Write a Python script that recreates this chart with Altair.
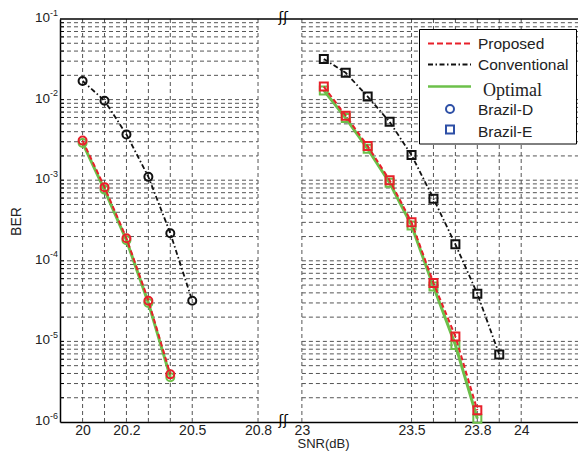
import altair as alt
import pandas as pd

# ---------------- data ----------------
SHIFT = 2.0  # right-hand segment (23..24 dB) is drawn at snr - SHIFT (axis break)

# Brazil-D (left segment, circles)
snr_d_conv = [20.0, 20.1, 20.2, 20.3, 20.4, 20.5]
ber_d_conv = [1.7e-2, 9.7e-3, 3.7e-3, 1.1e-3, 2.2e-4, 3.2e-5]
snr_d = [20.0, 20.1, 20.2, 20.3, 20.4]
ber_d_prop = [3.1e-3, 8.2e-4, 1.9e-4, 3.2e-5, 3.9e-6]
ber_d_opt = [2.9e-3, 7.6e-4, 1.8e-4, 3.0e-5, 3.6e-6]

# Brazil-E (right segment, squares)
snr_e_conv = [23.1, 23.2, 23.3, 23.4, 23.5, 23.6, 23.7, 23.8, 23.9]
ber_e_conv = [3.2e-2, 2.15e-2, 1.09e-2, 5.3e-3, 2.05e-3, 5.9e-4, 1.6e-4, 3.9e-5, 6.9e-6]
snr_e = [23.1, 23.2, 23.3, 23.4, 23.5, 23.6, 23.7, 23.8]
ber_e_prop = [1.45e-2, 6.3e-3, 2.65e-3, 1.0e-3, 3.0e-4, 5.3e-5, 1.15e-5, 1.4e-6]
ber_e_opt = [1.3e-2, 5.9e-3, 2.45e-3, 9.3e-4, 2.75e-4, 4.8e-5, 9.0e-6, 1.1e-6]

x_tick_values = [20, 20.2, 20.5, 20.8, 23, 23.5, 23.8, 24]
x_grid_values = [20, 20.1, 20.2, 20.3, 20.4, 20.5, 20.8, 23, 23.5, 23.6, 23.7, 23.8, 23.9, 24]
y_exponents = [-1, -2, -3, -4, -5, -6]
legend_labels = ["Proposed", "Conventional", "Optimal", "Brazil-D", "Brazil-E"]
x_title = "SNR(dB)"
y_title = "BER"

# ---------------- helpers ----------------
def to_plot(v):
    return v - SHIFT if v > 22 else v

W, H = 518, 403
X_LO = 19.897
X_HI = X_LO + W / 219.3
BREAK_L, BREAK_R = 20.8, 23 - SHIFT
BREAK_MID = 20.915

RED, BLACK, GREEN, BLUE = "#e8202a", "#111111", "#6cc04a", "#2d4fa6"
GRID = "#555555"
TXT = "#222222"
FONT = "Liberation Sans"

xs = alt.Scale(domain=[X_LO, X_HI], nice=False, zero=False)
ys = alt.Scale(type="log", domain=[1e-6, 1e-1], nice=False)

label_expr = ("datum.value > 20.95 ? format(datum.value + %g, '.1~f') : format(datum.value, '.1~f')" % SHIFT)

x_axis = alt.Axis(values=[to_plot(v) for v in x_tick_values], labelExpr=label_expr,
                  grid=False, ticks=False, domain=True, domainColor="black", domainWidth=1.5,
                  labelFont=FONT, labelFontSize=14, labelColor=TXT, labelPadding=1,
                  labelOverlap=False, labelFlush=False,
                  title=x_title, titleFont=FONT, titleFontSize=13, titleFontWeight="normal",
                  titleColor=TXT, titleBaseline="middle", titleX=263, titleY=21)
y_axis = alt.Axis(labels=False, ticks=False, grid=False, domain=True,
                  domainColor="black", domainWidth=1.5, title=None)


def XF(field):
    return alt.X(field, type="quantitative", scale=xs, axis=x_axis)


def XD(val):
    return alt.X(datum=val, type="quantitative", scale=xs, axis=x_axis)


def YF(field):
    return alt.Y(field, type="quantitative", scale=ys, axis=y_axis)


def series_df(pairs):
    rows = []
    for seg, xs_, ys_ in pairs:
        for a, b in zip(xs_, ys_):
            rows.append({"x": to_plot(a), "ber": b, "seg": seg})
    return pd.DataFrame(rows)


conv_df = series_df([("D", snr_d_conv, ber_d_conv), ("E", snr_e_conv, ber_e_conv)])
prop_df = series_df([("D", snr_d, ber_d_prop), ("E", snr_e, ber_e_prop)])
opt_df = series_df([("D", snr_d, ber_d_opt), ("E", snr_e, ber_e_opt)])

minor = [k * 10.0 ** e for e in range(-6, -1) for k in range(1, 10)]
minor = [v for v in minor if 1e-6 < v < 1e-1]
hgrid_df = pd.DataFrame({"y": minor})
vgrid_df = pd.DataFrame({"x": [to_plot(v) for v in x_grid_values]})
ylab_df = pd.DataFrame({"val": [10.0 ** e for e in y_exponents],
                        "lab": [str(e) for e in y_exponents]})

# ---------------- grid ----------------
hgrid_left = alt.Chart(hgrid_df).mark_rule(color=GRID, strokeWidth=1, strokeDash=[4, 3]).encode(
    y=YF("y"), x=XD(X_LO), x2=alt.X2(datum=BREAK_L))
hgrid_right = alt.Chart(hgrid_df).mark_rule(color=GRID, strokeWidth=1, strokeDash=[4, 3]).encode(
    y=YF("y"), x=XD(BREAK_R), x2=alt.X2(datum=X_HI))
vgrid = alt.Chart(vgrid_df).mark_rule(color=GRID, strokeWidth=1, strokeDash=[4, 3]).encode(
    x=XF("x"))
yticks = alt.Chart(hgrid_df).mark_rule(color="black", strokeWidth=1).encode(
    y=YF("y"), x=alt.value(0), x2=alt.value(4))

# ---------------- curves ----------------
shape_scale = alt.Scale(domain=["D", "E"], range=["circle", "square"])


def curve(df, color, width, dash=None):
    kw = dict(color=color, strokeWidth=width)
    if dash:
        kw["strokeDash"] = dash
    return alt.Chart(df).mark_line(**kw).encode(x=XF("x"), y=YF("ber"), detail="seg:N")


def markers(df, color):
    return alt.Chart(df).mark_point(filled=False, color=color, strokeWidth=2, size=64, opacity=1).encode(
        x=XF("x"), y=YF("ber"),
        shape=alt.Shape("seg:N", scale=shape_scale, legend=None))


opt_line = curve(opt_df, GREEN, 3)
opt_pts = markers(opt_df, GREEN)
prop_line = curve(prop_df, RED, 2, [5, 3])
prop_pts = markers(prop_df, RED)
conv_line = curve(conv_df, BLACK, 1.8, [5, 2.5, 1.5, 2.5])
conv_pts = markers(conv_df, BLACK)

# ---------------- frame ----------------
ONE = pd.DataFrame({"t": [""]})
top_line = alt.Chart(ONE).mark_rule(color="black", strokeWidth=1.5).encode(
    x=alt.value(0), x2=alt.value(W), y=alt.value(0))
brk_df = pd.DataFrame({"t": ["ʃʃ"]})
brk_top = alt.Chart(brk_df).mark_text(font="DejaVu Sans", fontSize=14, color="black").encode(
    x=XD(BREAK_MID), y=alt.value(-1), text="t:N")
brk_bot = alt.Chart(brk_df).mark_text(font="DejaVu Sans", fontSize=14, color="black").encode(
    x=XD(BREAK_MID), y=alt.value(H - 1), text="t:N")

# y tick labels 10^e
ylab_base = alt.Chart(ylab_df).mark_text(font=FONT, fontSize=13.5, color=TXT, align="right",
                                         baseline="middle", dy=-1).encode(
    x=alt.value(-10), y=YF("val"), text=alt.value("10"))
ylab_exp = alt.Chart(ylab_df).mark_text(font=FONT, fontSize=9, color=TXT, align="left",
                                        baseline="middle", dy=-6.5).encode(
    x=alt.value(-10), y=YF("val"), text="lab:N")
ytitle = alt.Chart(pd.DataFrame({"t": [y_title]})).mark_text(
    font=FONT, fontSize=14, color=TXT, angle=270, baseline="middle").encode(
    x=alt.value(-43), y=alt.value(202.5), text="t:N")

# ---------------- legend ----------------
leg_box = alt.Chart(ONE).mark_rect(fill="white", stroke="black", strokeWidth=1).encode(
    x=alt.value(359.5), x2=alt.value(516.5), y=alt.value(10.5), y2=alt.value(125))


def leg_line(y, color, width, dash=None):
    kw = dict(color=color, strokeWidth=width)
    if dash:
        kw["strokeDash"] = dash
    return alt.Chart(ONE).mark_rule(**kw).encode(x=alt.value(368), x2=alt.value(411), y=alt.value(y))


def leg_pt(y, shape):
    return alt.Chart(ONE).mark_point(shape=shape, filled=False, color=BLUE, strokeWidth=2,
                                     size=64, opacity=1).encode(x=alt.value(390), y=alt.value(y))


def leg_txt(label, y, x=418, font=FONT, size=15.5):
    return alt.Chart(pd.DataFrame({"t": [label]})).mark_text(
        font=font, fontSize=size, color=TXT, align="left", baseline="middle").encode(
        x=alt.value(x), y=alt.value(y), text="t:N")


legend = [
    leg_box,
    leg_line(24.5, RED, 2, [6, 3]),
    leg_line(45.5, BLACK, 1.8, [5, 2.5, 1.5, 2.5]),
    leg_line(67.5, GREEN, 2.5),
    leg_pt(90, "circle"),
    leg_pt(110.5, "square"),
    leg_txt(legend_labels[0], 24.5),
    leg_txt(legend_labels[1], 46),
    leg_txt(legend_labels[2], 72, x=423, font="Liberation Serif", size=18),
    leg_txt(legend_labels[3], 91),
    leg_txt(legend_labels[4], 112.5),
]

chart = alt.layer(
    hgrid_left, hgrid_right, vgrid, yticks,
    opt_line, opt_pts, prop_line, prop_pts, conv_line, conv_pts,
    top_line, brk_top, brk_bot, ylab_base, ylab_exp, ytitle,
    *legend,
).properties(
    width=W, height=H,
    autosize=alt.AutoSizeParams(type="none"),
    padding={"left": 52, "top": 11, "right": 0, "bottom": 30},
    background="white",
).configure_view(stroke=None)

chart.save("out.html", embed_options={"renderer": "svg", "actions": False})
